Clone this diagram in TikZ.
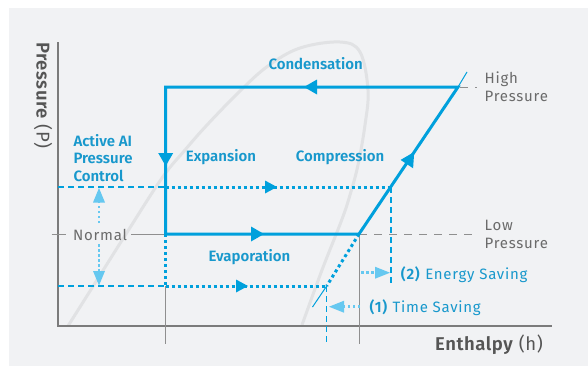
\documentclass[tikz,border=0pt]{standalone}
\usepackage{fontspec}
\setmainfont{Fira Sans}[BoldFont={Fira Sans SemiBold}, LetterSpace=5]
\newfontfamily\lblfont{Fira Sans SemiBold}
\newfontfamily\axfont{Fira Sans}[BoldFont={Fira Sans SemiBold}, LetterSpace=3]
\usetikzlibrary{arrows.meta}
\definecolor{bgc}{HTML}{F1F2F4}
\definecolor{cyanl}{HTML}{00A0DC}
\definecolor{labc}{HTML}{1898CC}
\definecolor{lightb}{HTML}{66C8F0}
\definecolor{gtextc}{HTML}{6B6B6B}
\definecolor{grayline}{HTML}{8F8F8F}
\definecolor{axisc}{HTML}{7B7B7B}
\definecolor{domec}{HTML}{E1E2E4}
\definecolor{darkt}{HTML}{555555}
\tikzset{
  cyc/.style={draw=cyanl, line width=3pt},
  dotb/.style={draw=cyanl, line width=3pt, dash pattern=on 3pt off 3pt},
  dashb/.style={draw=cyanl, line width=1.5pt, dash pattern=on 6pt off 4pt},
  dotl/.style={draw=lightb, line width=2.5pt, dash pattern=on 2.5pt off 2.5pt},
  grayl/.style={draw=grayline, line width=1pt},
  dashg/.style={grayl, dash pattern=on 8pt off 7pt},
  axisl/.style={draw=axisc, line width=2pt},
  domel/.style={draw=domec, line width=3pt},
  headb/.style={fill=cyanl},
  headl/.style={fill=lightb},
  lbl/.style={text=labc, font=\lblfont\fontsize{15}{18}\selectfont, inner sep=0pt, anchor=base west},
  gtxt/.style={text=gtextc, font=\fontsize{15}{18}\selectfont, inner sep=0pt, anchor=base west},
  stxt/.style={text=labc, font=\fontsize{15}{18}\selectfont, inner sep=0pt, anchor=base west},
  axtxt/.style={text=darkt, font=\axfont\fontsize{18.5}{22}\selectfont, inner sep=0pt, anchor=base west}
}
\begin{document}
\begin{tikzpicture}[x=1pt,y=-1pt]
\useasboundingbox (0,0) rectangle (588,367);
\fill[bgc] (9,8) rectangle (588,366);
% saturation dome
\draw[domel] plot[smooth, tension=0.6] coordinates {(68,326) (97,280) (126,234) (162,178) (185,150) (207,125) (240,91) (268,66) (300,48) (340,42) (360,52) (368,90) (365,125) (358,165) (350,195) (341.7,220) (322,270) (302,325)};
% coordinates
\coordinate (O) at (58,325.5);
\coordinate (Ytop) at (58,42);
\coordinate (Xend) at (552,325.5);
\coordinate (A) at (165.7,87);
\coordinate (B) at (458,87);
\coordinate (C) at (359,234);
\coordinate (D) at (165.7,234);
\coordinate (Bx) at (467,72);
\coordinate (E) at (326.7,286);
\coordinate (Ex) at (312.5,307);
\coordinate (F) at (391,187);
\coordinate (Fb) at (391,286);
\coordinate (U0) at (58,187);
\coordinate (U1) at (165.7,187);
\coordinate (L0) at (58,286);
\coordinate (L1) at (165.7,286);
\coordinate (Lb) at (165.7,344);
\coordinate (Cb) at (359,344);
\coordinate (Eb) at (326.7,344);
\coordinate (N0) at (51.7,234);
\coordinate (N1) at (66,234);
\coordinate (N2) at (131,234);
\coordinate (LP) at (477,234);
\coordinate (HP0) at (460,87);
\coordinate (HP) at (477,87);
% axes
\draw[axisl] (Ytop) -- (O) -- (Xend);
% gray lines
\draw[grayl] (N0) -- (N1);
\draw[grayl] (N2) -- (D);
\draw[grayl] (L1) -- (Lb);
\draw[grayl] (C) -- (Cb);
\draw[dashg] (C) -- (LP);
\draw[dashg] (HP0) -- (HP);
% blue dashed guide lines
\draw[dashb] (U0) -- (U1);
\draw[dashb] (L0) -- (L1);
\draw[dashb] (F) -- (Fb);
\draw[dashb] (E) -- (Eb);
% dotted blue lines
\draw[dotb] (U1) -- (F);
\draw[dotb] (L1) -- (E);
\draw[dotb] (D) -- (L1);
\draw[dotb] (C) -- (E);
\fill[headb] (277,187) -- (265,180.5) -- (265,193.5) -- cycle;
\fill[headb] (248,286) -- (236,279.5) -- (236,292.5) -- cycle;
\draw[draw=cyanl, line width=1pt] (E) -- (Ex);
% cycle
\draw[draw=cyanl, line width=1pt] (B) -- (Bx);
\draw[cyc, line cap=round] (D) -- (C) -- (B) -- (A) -- cycle;
\fill[headb] (304,87) -- (317,79.5) -- (317,94.5) -- cycle;
\fill[headb] (165.7,166) -- (158.2,153) -- (173.2,153) -- cycle;
\fill[headb] (264,234) -- (251,226.5) -- (251,241.5) -- cycle;
\fill[headb] (414.2,152) -- (413.1,168.3) -- (400.6,159.9) -- cycle;
% light blue arrows
\coordinate (Nu0) at (99,223);
\coordinate (Nu1) at (99,202);
\coordinate (Nd0) at (99,244);
\coordinate (Nd1) at (99,271);
\coordinate (Es0) at (361,272.7);
\coordinate (Es1) at (375,272.7);
\coordinate (Ts0) at (360,306.7);
\coordinate (Ts1) at (344,306.7);
\draw[dotl] (Nu0) -- (Nu1);
\draw[dotl] (Nd0) -- (Nd1);
\draw[dotl] (Es0) -- (Es1);
\draw[dotl] (Ts0) -- (Ts1);
\fill[headl] (99,188) -- (93,202.5) -- (105,202.5) -- cycle;
\fill[headl] (99,285.5) -- (93,271) -- (105,271) -- cycle;
\fill[headl] (390,272.7) -- (375,266.7) -- (375,278.7) -- cycle;
\fill[headl] (329,306.7) -- (344,300.7) -- (344,312.7) -- cycle;
% labels
\node[lbl] (cond) at (268.3,69) {Condensation};
\node[lbl] (expn) at (185.7,161.7) {Expansion};
\node[lbl] (comp) at (295.7,161.7) {Compression};
\node[lbl] (evap) at (208.3,261.7) {Evaporation};
\node[lbl] (aai1) at (73.3,146) {Active AI};
\node[lbl] (aai2) at (73.3,163.5) {Pressure};
\node[lbl] (aai3) at (73.3,181) {Control};
\node[gtxt] (norm) at (73,240.5) {Normal};
\node[gtxt] (high1) at (484.5,83.3) {High};
\node[gtxt] (high2) at (484.5,101.7) {Pressure};
\node[gtxt] (low1) at (484.5,230) {Low};
\node[gtxt] (low2) at (484.5,248.3) {Pressure};
\node[stxt] (ensav) at (400.7,279) {\textbf{(2)} Energy Saving};
\node[stxt] (tisav) at (369.3,312.3) {\textbf{(1)} Time Saving};
\node[axtxt] (enth) at (435,350) {\textbf{Enthalpy} (h)};
\node[axtxt, rotate=-90] (pres) at (36.7,42) {\textbf{Pressure} (P)};
\end{tikzpicture}
\end{document}
